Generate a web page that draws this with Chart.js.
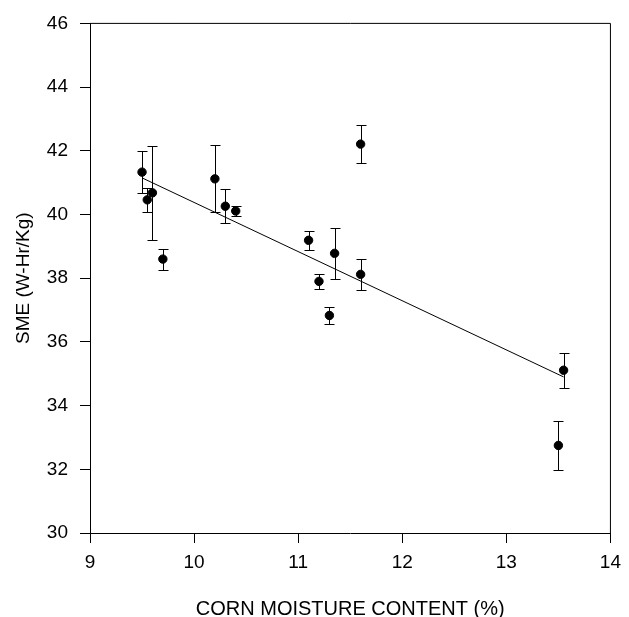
<!DOCTYPE html>
<html>
<head>
<meta charset="utf-8">
<script src="https://cdn.jsdelivr.net/npm/chart.js@4.4.1/dist/chart.umd.min.js"></script>
<style>
  body { margin: 0; background: #fff; }
  canvas { display: block; }
</style>
</head>
<body>
<canvas id="smeChart" width="629" height="617"></canvas>
<script>
// corn moisture (%) vs SME, mean and half error bar
const moisture = [9.5, 9.55, 9.6, 9.7, 10.2, 10.3, 10.4, 11.1, 11.2, 11.3, 11.35, 11.6, 11.6, 13.5, 13.55];
const sme = [41.33, 40.46, 40.68, 38.6, 41.12, 40.26, 40.11, 39.19, 37.9, 36.83, 38.78, 42.21, 38.12, 32.75, 35.11];
const smeErr = [0.67, 0.38, 1.47, 0.33, 1.05, 0.53, 0.15, 0.3, 0.24, 0.27, 0.79, 0.6, 0.48, 0.77, 0.55];
// fitted line end points
const fitX = [9.5, 13.55];
const fitY = [41.15, 34.9];
const xTicks = [9, 10, 11, 12, 13, 14];
const yTicks = [30, 32, 34, 36, 38, 40, 42, 44, 46];

const font = { family: "'Liberation Sans', Arial, sans-serif", size: 19 };

const errorBars = {
    id: 'errorBars',
    beforeDatasetsDraw(chart) {
        const { ctx, scales: { x, y } } = chart;
        ctx.save();
        ctx.strokeStyle = '#000';
        ctx.lineWidth = 1;
        moisture.forEach((m, i) => {
            const px = Math.round(x.getPixelForValue(m)) + 0.5;
            const top = Math.round(y.getPixelForValue(sme[i] + smeErr[i])) + 0.5;
            const bot = Math.round(y.getPixelForValue(sme[i] - smeErr[i])) + 0.5;
            ctx.beginPath();
            ctx.moveTo(px, top); ctx.lineTo(px, bot);
            ctx.moveTo(px - 5, top); ctx.lineTo(px + 5, top);
            ctx.moveTo(px - 5, bot); ctx.lineTo(px + 5, bot);
            ctx.stroke();
        });
        ctx.restore();
    },
    afterDraw(chart) {
        // top and right edges of the frame
        const { ctx, chartArea: a } = chart;
        ctx.save();
        ctx.strokeStyle = '#000';
        ctx.lineWidth = 1;
        ctx.beginPath();
        ctx.moveTo(a.left, a.top); ctx.lineTo(a.right, a.top); ctx.lineTo(a.right, a.bottom);
        ctx.stroke();
        ctx.restore();
    }
};

const ctx = document.getElementById('smeChart').getContext('2d');
const smeChart = new Chart(ctx, {
    type: 'scatter',
    data: {
        datasets: [
            {
                label: 'SME',
                data: moisture.map((m, i) => ({ x: m, y: sme[i] })),
                backgroundColor: '#000',
                borderColor: '#000',
                pointRadius: 4.2,
                pointHoverRadius: 4.2
            },
            {
                label: 'Fit',
                type: 'line',
                data: fitX.map((m, i) => ({ x: m, y: fitY[i] })),
                borderColor: '#000',
                borderWidth: 1,
                pointRadius: 0,
                fill: false
            }
        ]
    },
    options: {
        responsive: false,
        animation: false,
        layout: { padding: { top: 17, right: 12, bottom: 0, left: 0 } },
        scales: {
            x: {
                type: 'linear',
                min: 9,
                max: 14,
                afterBuildTicks: (s) => { s.ticks = xTicks.map(v => ({ value: v })); },
                afterFit: (s) => { s.height = 84; },
                grid: { drawOnChartArea: false, drawTicks: true, tickLength: 10, color: '#000' },
                border: { display: true, color: '#000', width: 1 },
                ticks: { color: '#000', font: font, padding: 8, maxRotation: 0 },
                title: {
                    display: true,
                    text: 'CORN MOISTURE CONTENT (%)',
                    color: '#000',
                    font: { family: font.family, size: 20 },
                    padding: { top: 0, bottom: -4 }
                }
            },
            y: {
                type: 'linear',
                min: 30,
                max: 46,
                afterBuildTicks: (s) => { s.ticks = yTicks.map(v => ({ value: v })); },
                afterFit: (s) => { s.width = 90; },
                grid: { drawOnChartArea: false, drawTicks: true, tickLength: 10, color: '#000' },
                border: { display: true, color: '#000', width: 1 },
                ticks: { color: '#000', font: font, padding: 12 },
                title: {
                    display: true,
                    text: 'SME (W-Hr/Kg)',
                    color: '#000',
                    font: font,
                    padding: { top: 12, bottom: 0 }
                }
            }
        },
        plugins: {
            legend: { display: false },
            tooltip: { enabled: false }
        }
    },
    plugins: [errorBars]
});
</script>
</body>
</html>
